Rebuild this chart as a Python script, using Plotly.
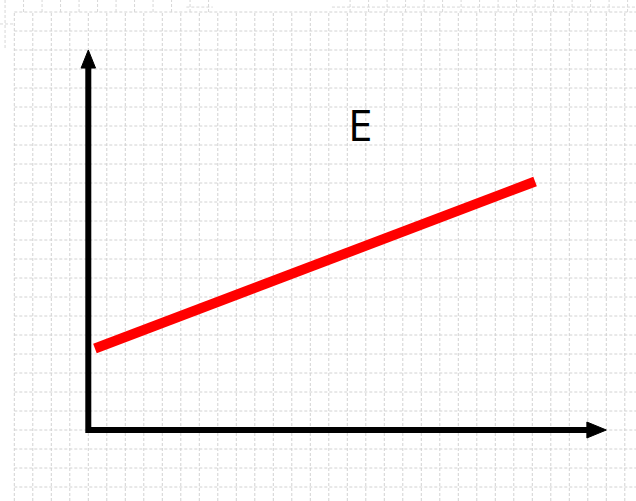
import plotly.graph_objects as go

# ---- data (grid units: 1 unit = one graph-paper cell) ----
line_x = [0.36, 24.15]          # red line start/end (x)
line_y = [4.29, 13.08]          # red line start/end (y)
x_axis_end = 27.0               # end of x-axis shaft (arrow base)
x_arrow_tip = 28.0
y_axis_end = 19.1               # end of y-axis shaft (arrow base)
y_arrow_tip = 20.0
label_text = "E"
label_pos = [14.69, 16.1]

x_range = [-4.773, 29.605]
y_range = [-3.737, 22.632]
grid_cols = list(range(-4, 30))
grid_rows = list(range(-3, 23))

fig = go.Figure()

# ---- graph-paper grid ----
gx, gy = [], []
for k in grid_cols:
    gx += [k, k, None]
    gy += [y_range[0], 22.0, None]
for j in grid_rows:
    gx += [-4.0, x_range[1], None]
    gy += [j, j, None]
fig.add_trace(go.Scatter(x=gx, y=gy, mode="lines", hoverinfo="skip",
                         line=dict(color="#d2d2d2", width=1, dash="3px,2px"),
                         showlegend=False))

# top strip fragments of paper
sx, sy = [], []
for m in range(-4, 7):
    u = m + 0.5
    if u >= -3.6:
        sx += [u, u, None]; sy += [22.0, y_range[1], None]
for m in range(14, 30):
    u = m + 0.15
    sx += [u, u, None]; sy += [22.0, y_range[1], None]
sx += [5.3, 6.73, None, 13.17, x_range[1], None]
sy += [22.26, 22.26, None, 22.26, 22.26, None]
sx += [-4.5, -4.5, None, x_range[0], -3.96, None]
sy += [y_range[1], 20.1, None, 21.37, 21.37, None]
fig.add_trace(go.Scatter(x=sx, y=sy, mode="lines", hoverinfo="skip",
                         line=dict(color="#d8d8d8", width=1, dash="3px,2px"),
                         showlegend=False))

# ---- axes with arrows ----
fig.add_trace(go.Scatter(x=[0, 0, x_axis_end], y=[y_axis_end, 0, 0], mode="lines",
                         line=dict(color="black", width=6), hoverinfo="skip",
                         showlegend=False))
fig.add_trace(go.Scatter(x=[-0.39, 0.39, 0, -0.39], y=[y_axis_end - 0.05, y_axis_end - 0.05, y_arrow_tip, y_axis_end - 0.05],
                         mode="lines", fill="toself", fillcolor="black",
                         line=dict(color="black", width=1), hoverinfo="skip", showlegend=False))
fig.add_trace(go.Scatter(x=[x_axis_end - 0.05, x_axis_end - 0.05, x_arrow_tip, x_axis_end - 0.05], y=[-0.42, 0.42, 0, -0.42],
                         mode="lines", fill="toself", fillcolor="black",
                         line=dict(color="black", width=1), hoverinfo="skip", showlegend=False))

# ---- red line ----
fig.add_trace(go.Scatter(x=line_x, y=line_y, mode="lines",
                         line=dict(color="#ff0000", width=10), hoverinfo="skip",
                         showlegend=False))

fig.add_annotation(x=label_pos[0], y=label_pos[1], text=label_text, showarrow=False,
                   font=dict(family="Open Sans", size=44, color="black"),
                   xanchor="center", yanchor="middle")

fig.update_layout(
    width=636, height=501,
    margin=dict(l=0, r=0, t=0, b=0),
    paper_bgcolor="white", plot_bgcolor="white",
    xaxis=dict(range=x_range, visible=False, fixedrange=True),
    yaxis=dict(range=y_range, visible=False, fixedrange=True),
    showlegend=False,
)

fig.write_html("out.html", config={"displayModeBar": False},
               post_script="document.body.style.margin='0';document.body.style.overflow='hidden';")
